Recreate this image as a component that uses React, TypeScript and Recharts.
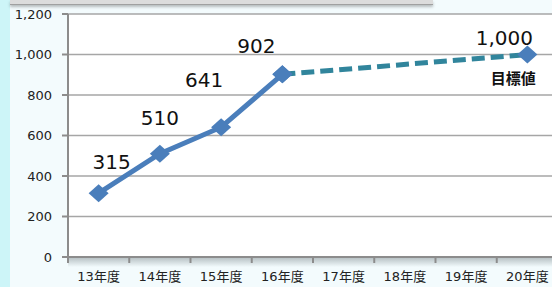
import { CartesianGrid, Line, LineChart, XAxis, YAxis } from 'recharts';

const years = ['13年度', '14年度', '15年度', '16年度', '17年度', '18年度', '19年度', '20年度'];
const actual = [315, 510, 641, 902, null, null, null, null];
const target = [null, null, null, 902, null, null, null, 1000];
const yTicks = [0, 200, 400, 600, 800, 1000, 1200];
const targetNote = '目標値';

const data = years.map((name, i) => ({ name, actual: actual[i], target: target[i] }));

// label nudges (px from the point), the original has them placed by hand
const nudge = [
  [13, -31],
  [0, -36],
  [-17, -47],
  [-26, -28],
  [0, 0],
  [0, 0],
  [0, 0],
  [-23, -17],
];

const FONT = "'DejaVu Sans', 'Noto Sans CJK JP', sans-serif";
const W = 566;
const H = 287;
const LEFT = 68;
const RIGHT = 8;
const BAND = (W - LEFT - RIGHT) / years.length;

const fmt = (v: number) => v.toLocaleString('en-US');

const Diamond = (props: any) => {
  const { cx, cy, index } = props;
  if (cx == null || cy == null) return <g key={'d' + index} />;
  return (
    <path
      key={'d' + index}
      d={`M${cx},${cy - 9} L${cx + 10},${cy} L${cx},${cy + 9} L${cx - 10},${cy} Z`}
      fill="#4a7ebb"
    />
  );
};

const XTick = (props: any) => {
  const { x, y, payload } = props;
  return (
    <g>
      <line x1={x - BAND / 2} x2={x - BAND / 2} y1={y} y2={y + 6} stroke="#8c8c8c" strokeWidth={2} />
      <text x={x} y={y + 24} textAnchor="middle" fontSize={13} fill="#222" fontFamily={FONT}>
        {payload.value}
      </text>
    </g>
  );
};

const valueLabel = (props: any) => {
  const { x, y, value, index } = props;
  if (value == null || x == null) return <g key={'l' + index} />;
  const [dx, dy] = nudge[index];
  return (
    <text
      key={'l' + index}
      x={x + dx}
      y={y + dy}
      textAnchor="middle"
      dominantBaseline="central"
      fontSize={20}
      fill="#111"
      fontFamily={FONT}
    >
      {fmt(value)}
    </text>
  );
};

const targetLabel = (props: any) => {
  const { x, y, value, index } = props;
  if (index !== years.length - 1 || value == null) return <g key={'t' + index} />;
  const [dx, dy] = nudge[index];
  return (
    <g key={'t' + index}>
      <text x={x + dx} y={y + dy} textAnchor="middle" dominantBaseline="central" fontSize={20} fill="#111" fontFamily={FONT}>
        {fmt(value)}
      </text>
      <text x={x - 14} y={y + 24} textAnchor="middle" dominantBaseline="central" fontSize={15} fontWeight="bold" fill="#111" fontFamily={FONT}>
        {targetNote}
      </text>
    </g>
  );
};

export default function App() {
  return (
    <div
      style={{
        position: 'absolute',
        left: 0,
        top: 0,
        width: 552,
        height: 287,
        overflow: 'hidden',
        background: '#f3fbfd',
        fontFamily: FONT,
      }}
    >
      <div style={{ position: 'absolute', left: 0, top: 0, width: 10, height: 287, background: '#cdf5f8' }} />
      <div
        style={{
          position: 'absolute',
          left: LEFT,
          top: 258,
          width: 500,
          height: 9,
          background: 'linear-gradient(#b9c3c6, rgba(243,251,253,0))',
        }}
      />
      <LineChart
        width={W}
        height={H}
        data={data}
        margin={{ top: 14, right: RIGHT, bottom: 0, left: 0 }}
        style={{ position: 'absolute', left: 0, top: 0 }}
      >
        <CartesianGrid vertical={false} stroke="#a6a6a6" strokeWidth={1.5} fill="#ffffff" />
        <XAxis
          dataKey="name"
          height={30}
          tickSize={0}
          tickMargin={0}
          tick={<XTick />}
          padding={{ left: BAND / 2, right: BAND / 2 }}
          axisLine={{ stroke: '#8c8c8c', strokeWidth: 2 }}
          interval={0}
        />
        <YAxis
          width={LEFT}
          domain={[0, 1200]}
          ticks={yTicks}
          tickFormatter={fmt}
          tickSize={6}
          tickMargin={10}
          tick={{ fontSize: 13, fill: '#222', fontFamily: FONT }}
          axisLine={{ stroke: '#8c8c8c', strokeWidth: 2 }}
          tickLine={{ stroke: '#8c8c8c', strokeWidth: 2 }}
        />
        <Line
          dataKey="target"
          stroke="#31859c"
          strokeWidth={5}
          strokeDasharray="13 6"
          connectNulls
          dot={<Diamond />}
          activeDot={false}
          label={targetLabel}
          isAnimationActive={false}
        />
        <Line
          dataKey="actual"
          stroke="#4a7ebb"
          strokeWidth={5}
          dot={<Diamond />}
          activeDot={false}
          label={valueLabel}
          isAnimationActive={false}
        />
      </LineChart>
      <div
        style={{
          position: 'absolute',
          left: 10,
          top: 0,
          width: 423,
          height: 4,
          background: '#dcdcdc',
          borderBottom: '1px solid #a0a0a0',
          boxShadow: '0 2px 3px rgba(0,0,0,0.25)',
        }}
      />
    </div>
  );
}
